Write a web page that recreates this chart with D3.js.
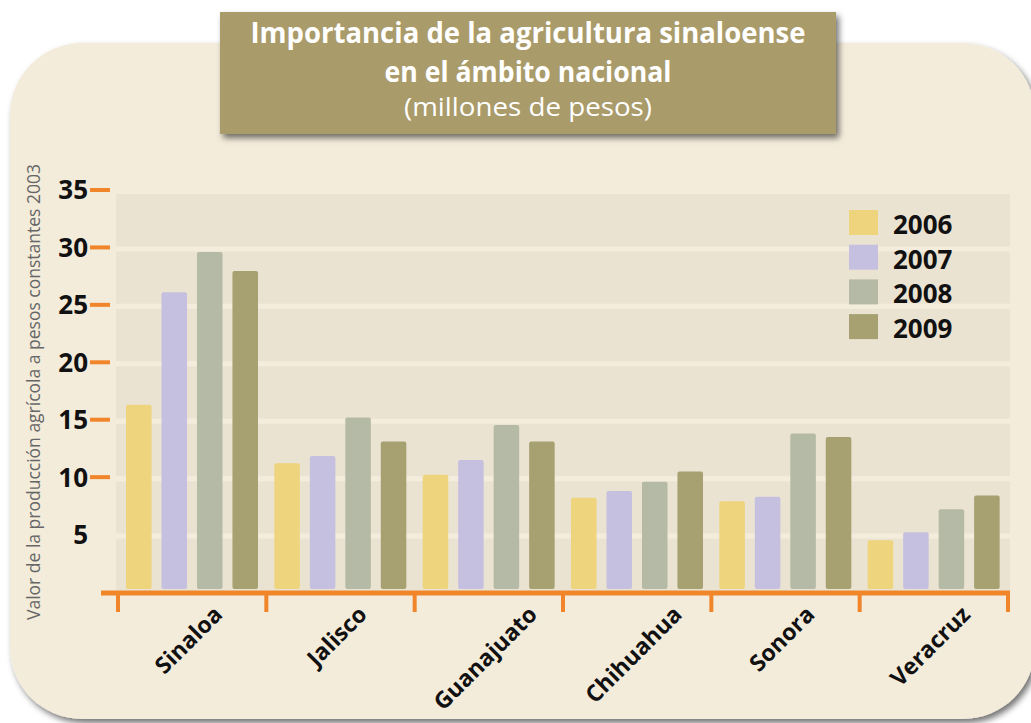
<!DOCTYPE html>
<html>
<head>
<meta charset="utf-8">
<script src="https://cdn.jsdelivr.net/npm/d3@7"></script>
<style>
  body { margin: 0; background: #fff; }
  svg { display: block; font-family: "Open Sans", sans-serif; }
</style>
</head>
<body>
<div id="chart"></div>
<script>
// values (millones de pesos)
var states = ["Sinaloa", "Jalisco", "Guanajuato", "Chihuahua", "Sonora", "Veracruz"];
var years = ["2006", "2007", "2008", "2009"];
var v2006 = [16.3, 11.2, 10.2, 8.2, 7.9, 4.5];
var v2007 = [26.1, 11.85, 11.5, 8.8, 8.3, 5.2];
var v2008 = [29.6, 15.2, 14.55, 9.6, 13.8, 7.2];
var v2009 = [27.95, 13.1, 13.1, 10.5, 13.5, 8.4];
var yTicks = [5, 10, 15, 20, 25, 30, 35];
var colours = ["#eed47c", "#c6c0e0", "#b5baa6", "#a7a172"];

var titleLines = ["Importancia de la agricultura sinaloense", "en el ámbito nacional", "(millones de pesos)"];
var yTitle = "Valor de la producción agrícola a pesos constantes 2003";

var series = [v2006, v2007, v2008, v2009];
var data = states.map(function(s, i) {
  return { state: s, values: years.map(function(y, j) { return { year: y, value: series[j][i], k: j }; }) };
});

var width = 1031, height = 723;
var svg = d3.select("#chart").append("svg")
  .attr("width", width)
  .attr("height", height);

var defs = svg.append("defs");
var shadow = defs.append("filter").attr("id", "shadow")
  .attr("x", "-10%").attr("y", "-10%").attr("width", "120%").attr("height", "130%");
shadow.append("feDropShadow")
  .attr("dx", 3).attr("dy", 4).attr("stdDeviation", 3)
  .attr("flood-color", "#000").attr("flood-opacity", 0.55);

// cream panel
svg.append("rect")
  .attr("x", 10).attr("y", 43)
  .attr("width", 1025).attr("height", 676)
  .attr("rx", 72).attr("ry", 72)
  .style("fill", "#f4ecdb")
  .attr("filter", "url(#shadow)");

// title box
svg.append("rect")
  .attr("x", 220).attr("y", 12)
  .attr("width", 616).attr("height", 122)
  .style("fill", "#aa9b6b")
  .attr("filter", "url(#shadow)");

var titleY = [43, 82, 116];
var titleW = [555, 287, 248];
titleLines.forEach(function(t, i) {
  svg.append("text")
    .attr("x", 528).attr("y", titleY[i])
    .attr("text-anchor", "middle")
    .attr("textLength", titleW[i])
    .attr("lengthAdjust", "spacingAndGlyphs")
    .style("font-size", i < 2 ? "28px" : "26px")
    .style("font-weight", i < 2 ? "bold" : "normal")
    .style("fill", "#fff")
    .text(t);
});

// scales
var y = d3.scaleLinear().domain([0, 35]).range([592, 190]);
var x0 = d3.scaleBand().domain(states).range([118, 1008]);
var x1 = d3.scaleBand().domain(years).range([8, 140]).paddingInner(0.28);

// plot background + light grid bands
svg.append("rect")
  .attr("x", 116).attr("y", y(35) + 4)
  .attr("width", 1010 - 116).attr("height", y(0) - y(35) - 4)
  .style("fill", "#ebe3d1");

svg.selectAll(".grid")
  .data(yTicks.filter(function(d) { return d < 35; }))
  .enter().append("line")
  .attr("class", "grid")
  .attr("x1", 116).attr("x2", 1010)
  .attr("y1", function(d) { return y(d) + 1.5; })
  .attr("y2", function(d) { return y(d) + 1.5; })
  .attr("stroke", "#f4eddd")
  .attr("stroke-width", 5);

// bars
var groups = svg.selectAll(".group")
  .data(data)
  .enter().append("g")
  .attr("class", "group")
  .attr("transform", function(d) { return "translate(" + x0(d.state) + ",0)"; });

groups.selectAll("rect")
  .data(function(d) { return d.values; })
  .enter().append("rect")
  .attr("x", function(d) { return x1(d.year); })
  .attr("y", function(d) { return y(d.value); })
  .attr("width", x1.bandwidth())
  .attr("height", function(d) { return y(0) - y(d.value) - 3; })
  .attr("rx", 2)
  .style("fill", function(d) { return colours[d.k]; });

// y axis: orange dashes + bold numbers
svg.selectAll(".ytick")
  .data(yTicks.filter(function(d) { return d >= 10; }))
  .enter().append("line")
  .attr("class", "ytick")
  .attr("x1", 90).attr("x2", 110)
  .attr("y1", function(d) { return y(d); })
  .attr("y2", function(d) { return y(d); })
  .attr("stroke", "#f0852a")
  .attr("stroke-width", 4);

svg.selectAll(".ylabel")
  .data(yTicks)
  .enter().append("text")
  .attr("class", "ylabel")
  .attr("x", 88)
  .attr("y", function(d) { return y(d); })
  .attr("dy", "0.36em")
  .attr("text-anchor", "end")
  .style("font-size", "26px")
  .style("font-weight", "bold")
  .style("fill", "#111")
  .text(function(d) { return d; });

svg.append("text")
  .attr("transform", "translate(40," + 392 + ") rotate(-90)")
  .attr("text-anchor", "middle")
  .style("font-size", "17.5px")
  .style("fill", "#666")
  .text(yTitle);

// x axis
svg.append("line")
  .attr("x1", 101).attr("x2", 1010)
  .attr("y1", 593).attr("y2", 593)
  .attr("stroke", "#f0852a")
  .attr("stroke-width", 5);

var bounds = states.map(function(s) { return x0(s); }).concat([x0.range()[1]]);
svg.selectAll(".xtick")
  .data(bounds)
  .enter().append("line")
  .attr("class", "xtick")
  .attr("x1", function(d) { return d; })
  .attr("x2", function(d) { return d; })
  .attr("y1", 593).attr("y2", 612)
  .attr("stroke", "#f0852a")
  .attr("stroke-width", 4);

svg.selectAll(".xlabel")
  .data(states)
  .enter().append("text")
  .attr("class", "xlabel")
  .attr("text-anchor", "end")
  .style("font-size", "23px")
  .style("font-weight", "bold")
  .style("fill", "#111")
  .text(function(d) { return d; })
  .attr("transform", function(d) {
    var L = this.getComputedTextLength();
    var cx = x0(d) + x0.bandwidth() / 2;
    return "translate(" + (cx + 0.354 * L + 2) + ",616) rotate(-45)";
  });

// legend
var legend = svg.selectAll(".legend")
  .data(years)
  .enter().append("g")
  .attr("class", "legend")
  .attr("transform", function(d, i) { return "translate(849," + (210 + i * 34.7) + ")"; });

legend.append("rect")
  .attr("width", 29).attr("height", 25)
  .style("fill", function(d, i) { return colours[i]; });

legend.append("text")
  .attr("x", 44).attr("y", 24)
  .style("font-size", "26px")
  .style("font-weight", "bold")
  .style("fill", "#111")
  .text(function(d) { return d; });
</script>
</body>
</html>
